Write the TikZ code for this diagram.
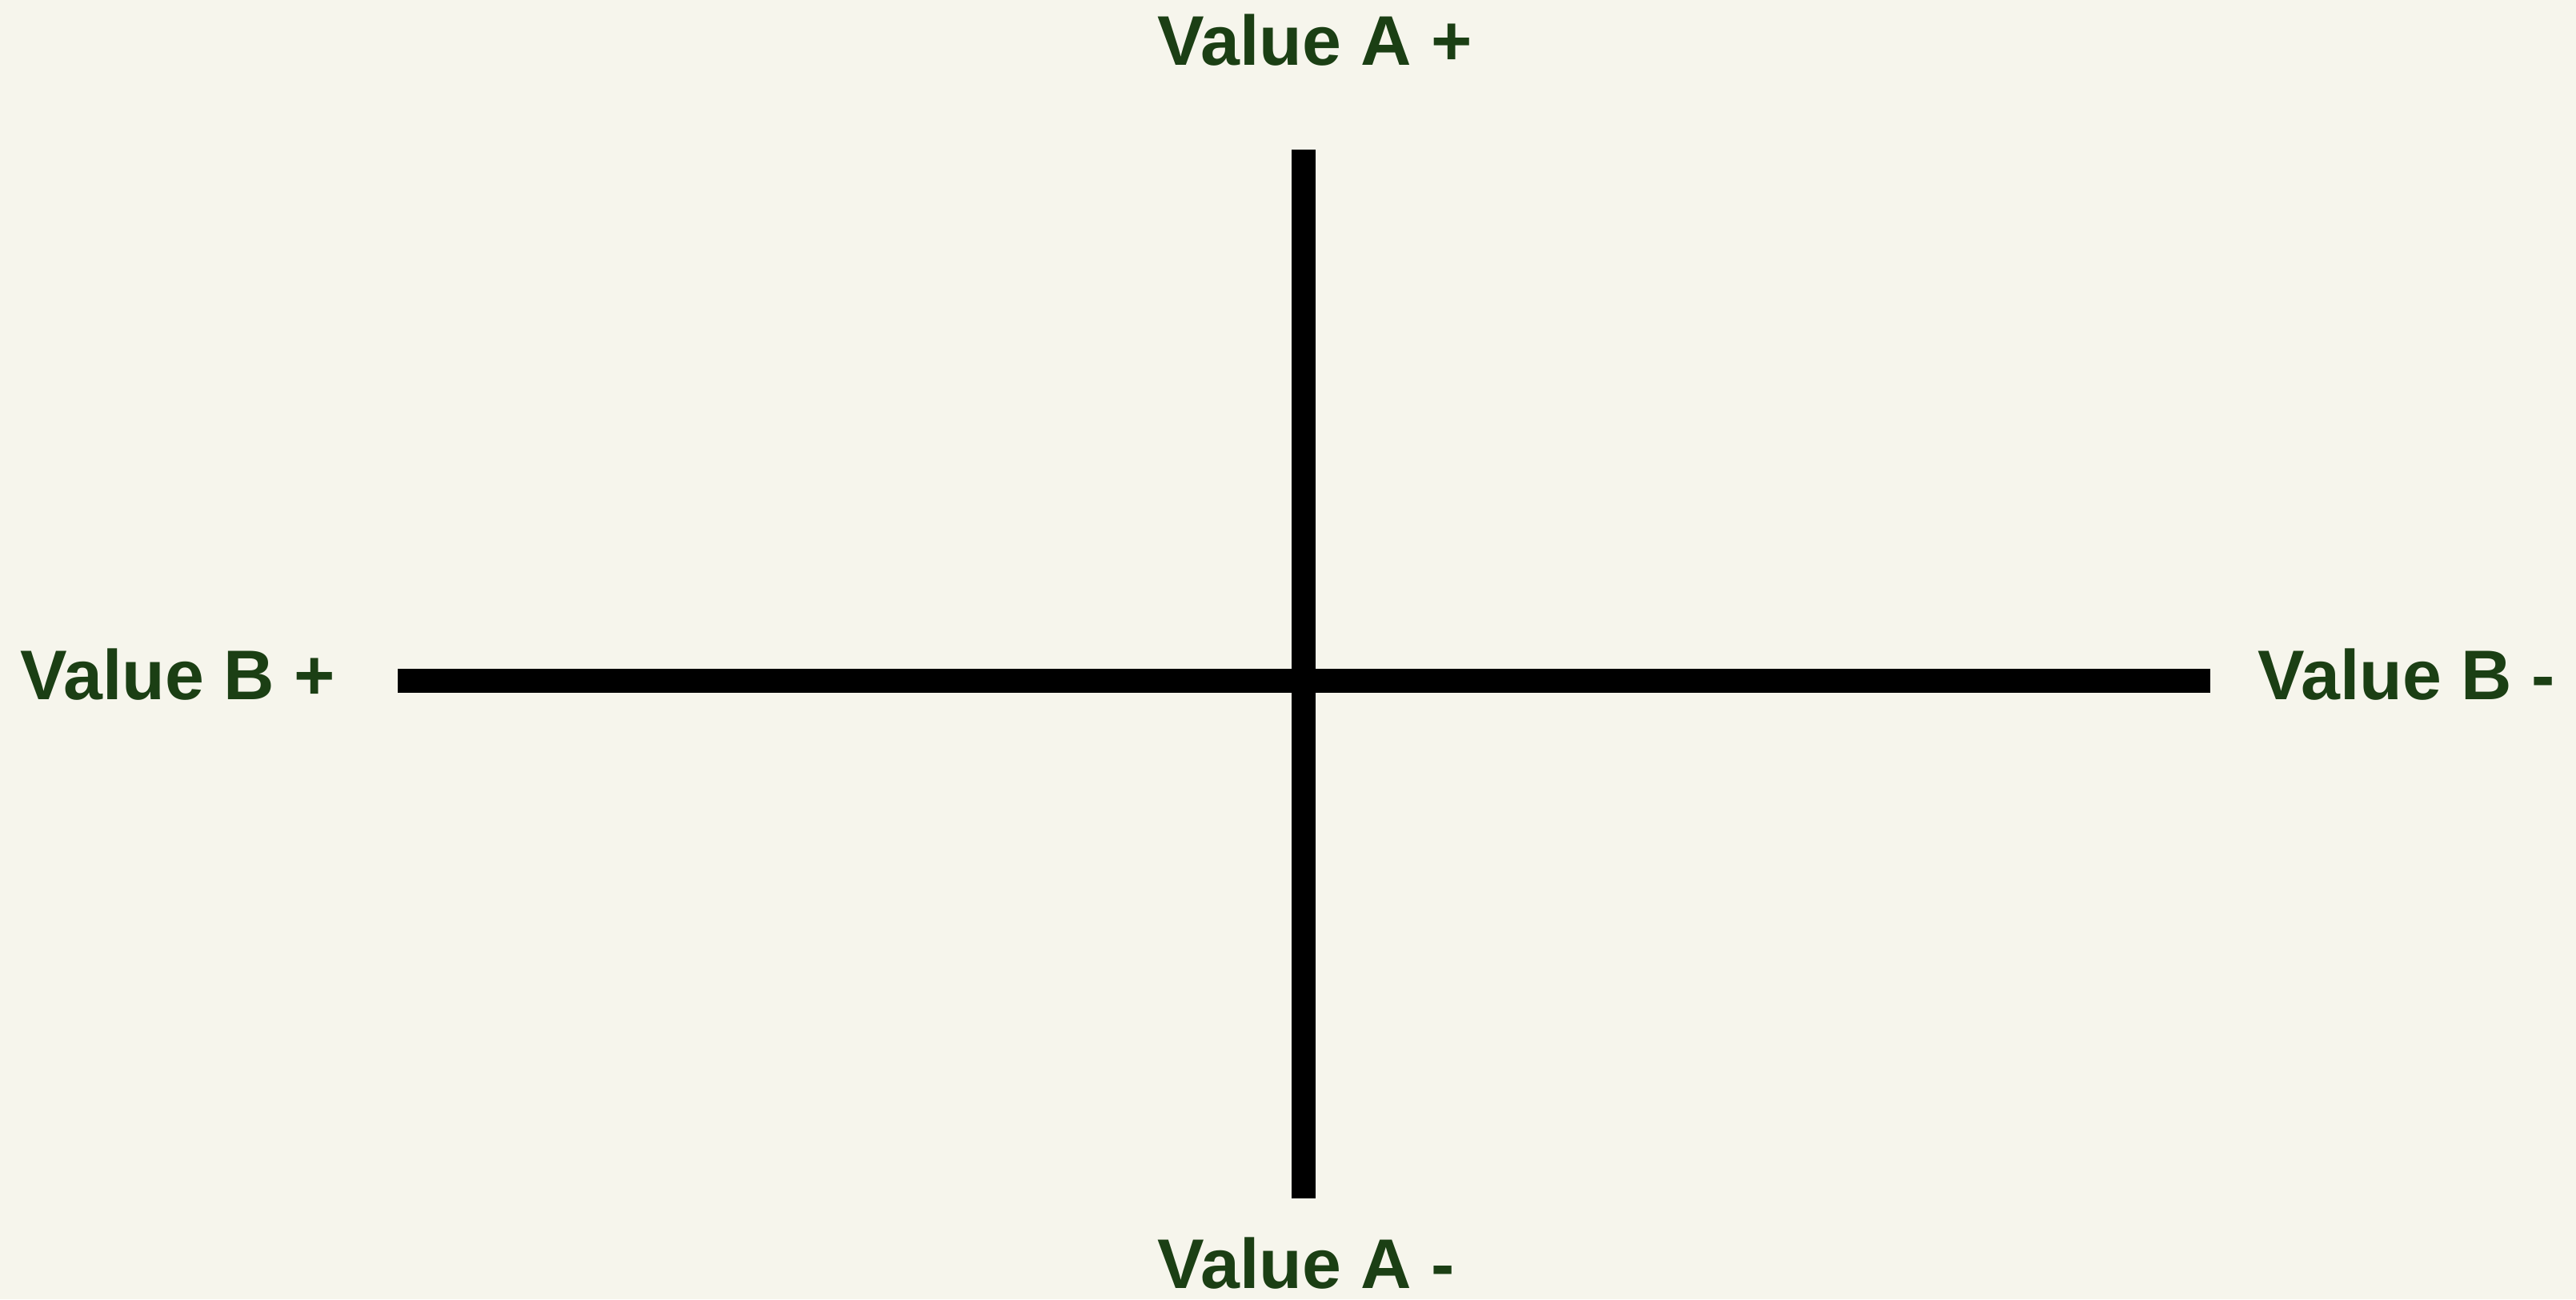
\documentclass[tikz,border=0pt]{standalone}
\usepackage{fontspec}
\setmainfont{Liberation Sans}
\usetikzlibrary{positioning}
\definecolor{paper}{HTML}{F6F5EC}
\definecolor{leaf}{HTML}{1B3F14}

\begin{document}
\begin{tikzpicture}[
  axis/.style={line width=0.3cm, black},
  pole/.style={inner sep=0pt, text=leaf,
               font=\fontsize{25}{30}\selectfont\bfseries},
]
% Canvas
\fill[paper] (0,0) rectangle (32.19,-16.24);
\useasboundingbox (0,0) rectangle (32.19,-16.24);

% Axis end points
\coordinate (atop) at (16.29,-1.87);
\coordinate (abot) at (16.29,-14.98);
\coordinate (bleft) at (4.97,-8.51);
\coordinate (bright) at (27.62,-8.51);

% Axes
\draw[axis] (bleft) -- (bright);
\draw[axis] (atop) -- (abot);

% Pole labels
\node[pole, anchor=base west] (aplus) at (14.46,-0.81) {Value A +};
\node[pole, anchor=base west] (aminus) at (14.46,-16.10) {Value A -};
\node[pole, anchor=base west] (bplus) at (0.25,-8.74) {Value B +};
\node[pole, anchor=base west] (bminus) at (28.21,-8.74) {Value B -};
\end{tikzpicture}
\end{document}
